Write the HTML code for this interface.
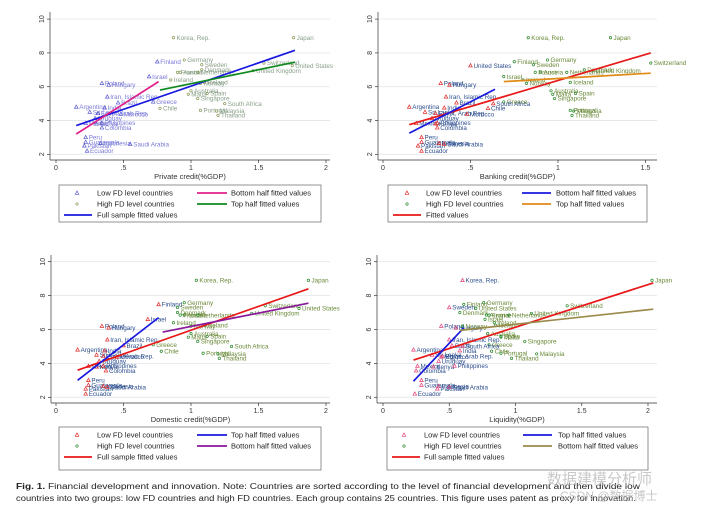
<!DOCTYPE html>
<html><head><meta charset="utf-8"><style>
body{margin:0;background:#fff;}
svg{display:block;font-family:"Liberation Sans",sans-serif;}
</style></head><body>
<svg id="fig" width="711" height="514" viewBox="0 0 711 514" xmlns="http://www.w3.org/2000/svg">
<rect width="711" height="514" fill="#fff"/>
<g id="caption" font-size="7.8" fill="#222">
<text x="16" y="489" textLength="624" lengthAdjust="spacingAndGlyphs"><tspan font-weight="bold">Fig. 1.</tspan> Financial development and innovation. Note: Countries are sorted according to the level of financial development and then divide low</text>
<text x="16" y="501" textLength="620" lengthAdjust="spacingAndGlyphs">countries into two groups: low FD countries and high FD countries. Each group contains 25 countries. This figure uses patent as proxy for innovation.</text>
</g>
<g fill="#bbb" opacity="0.8" font-family="'Liberation Sans','Noto Sans CJK SC',sans-serif">
<text x="547" y="484" font-size="15">数据建模分析师</text>
<text x="560" y="500" font-size="12">CSDN @数据博士</text>
</g>
</svg>
<script>
const countries=["Korea, Rep.","Japan","Finland","Germany","Sweden","Switzerland","United States","United Kingdom","Denmark","Austria","France","Netherlands","Israel","Ireland","Poland","Hungary","Norway","Iceland","Iran, Islamic Rep.","Brazil","Greece","Australia","Malta","Spain","Singapore","South Africa","Chile","Portugal","Malaysia","Thailand","Argentina","India","Sri Lanka","Egypt, Arab Rep.","Morocco","Uruguay","Mexico","Kenya","Philippines","Colombia","Peru","Guatemala","Pakistan","Indonesia","Saudi Arabia","Ecuador"];
const patents=[8.9,8.9,7.48,7.58,7.3,7.4,7.25,6.95,7.0,6.85,6.85,6.85,6.6,6.4,6.2,6.1,6.2,6.25,5.4,5.05,5.1,5.76,5.55,5.6,5.3,5.0,4.72,4.6,4.56,4.3,4.8,4.75,4.5,4.42,4.38,4.13,3.83,3.8,3.85,3.57,3.0,2.72,2.5,2.65,2.6,2.2];
const privateCredit=[.87,1.76,.75,.95,1.08,1.54,1.75,1.46,1.08,.92,.9,1.05,.69,.85,.34,.39,1.07,1.1,.38,.46,.72,1.0,.98,1.12,1.05,1.25,.77,1.07,1.19,1.2,.15,.36,.25,.31,.48,.29,.22,.3,.34,.34,.22,.22,.21,.33,.55,.23];
const bankingCredit=[.83,1.3,.75,.94,.86,1.53,.5,1.2,1.15,.9,.87,1.05,.69,.8,.33,.38,.82,1.07,.36,.42,.69,.96,.97,1.1,.98,.63,.6,1.07,1.09,1.08,.15,.35,.24,.3,.48,.28,.19,.3,.31,.31,.22,.22,.2,.32,.35,.22];
const domesticCredit=[1.04,1.87,.76,.95,.9,1.55,1.8,1.45,.9,.95,.92,1.05,.68,.87,.34,.39,1.0,1.1,.38,.5,.72,1.0,.98,1.12,1.05,1.3,.78,1.09,1.2,1.21,.16,.36,.3,.35,.45,.32,.24,.3,.35,.37,.24,.24,.22,.35,.38,.22];
const liquidity=[.6,2.03,.61,.76,.5,1.39,.7,1.12,.58,.78,.8,.95,.77,.84,.44,.55,.6,.85,.5,.52,.8,.79,.89,.89,1.07,.6,.82,.89,1.16,.97,.23,.58,.37,.45,.44,.42,.26,.38,.54,.25,.29,.29,.41,.42,.5,.24];
const lowP1=[2,12,14,15,18,19,20,30,31,32,33,34,35,36,37,38,39,40,41,42,43,44,45];
const lowP2=[6,14,15,18,19,25,26,30,31,32,33,34,35,36,37,38,39,40,41,42,43,44,45];
const lowP3=[2,12,14,15,18,19,30,31,32,33,34,35,36,37,38,39,40,41,42,43,44,45];
const lowP4=[0,4,14,15,18,19,25,30,31,32,33,34,35,36,37,38,39,40,41,42,43,44,45];
const fitP1=[[0.15,3.7,1.77,8.15],[0.15,3.2,0.76,6.3],[0.77,5.8,1.77,7.45]];
const fitP2=[[0.15,3.75,1.53,8.0],[0.15,3.25,0.64,5.85],[0.69,6.3,1.53,6.8]];
const fitP3=[[0.16,3.6,1.87,8.4],[0.16,3.0,0.76,6.7],[0.79,5.85,1.87,7.55]];
const fitP4=[[0.23,4.2,2.04,8.75],[0.23,2.95,0.61,6.1],[0.58,5.95,2.04,7.2]];
const yTicks=[2,4,6,8,10];
const xTicksA=[0,.5,1,1.5,2];
const xTicksB=[0,.5,1,1.5];
const xTickLabels={0:"0",0.5:".5",1:"1",1.5:"1.5",2:"2"};

const svg=document.getElementById('fig');
const NS="http://www.w3.org/2000/svg";
function mk(tag,attrs,parent){const e=document.createElementNS(NS,tag);for(const k in attrs)e.setAttribute(k,attrs[k]);parent.appendChild(e);return e;}

const panels=[
 {name:"private",xs:privateCredit,low:lowP1,fits:fitP1,xt:xTicksA,label:"Private credit(%GDP)",x0:56,xu:135,y2:154.3,yu:16.9,L:50,R:330,T:12,B:160,
  lowC:"#5a5ad0",lowT:"#7a7ad8",hiC:"#8a9a5a",hiT:"#8aa08a",lineC:["#1818e0","#e0208a","#108a20"],
  legend:{top:185,bot:222,lx:59,rx:321,sym:77,txt:97,lx1:197,lx2:227,ltxt:231},
  items:[["tri","Low FD level countries"],["line","Bottom half fitted values",1],["circ","High FD level countries"],["line","Top half fitted values",2],["line","Full sample fitted values",0]]},
 {name:"banking",xs:bankingCredit,low:lowP2,fits:fitP2,xt:xTicksB,label:"Banking credit(%GDP)",x0:383,xu:175,y2:154.3,yu:16.9,L:378,R:657,T:12,B:160,
  lowC:"#e02828",lowT:"#2d4f8f",hiC:"#2a8a2a",hiT:"#6b8a3a",lineC:["#e81818","#1818e0","#e08a18"],
  legend:{top:185,bot:222,lx:388,rx:647,sym:407,txt:426,lx1:522,lx2:551,ltxt:556},
  items:[["tri","Low FD level countries"],["line","Bottom half fitted values",1],["circ","High FD level countries"],["line","Top half fitted values",2],["line","Fitted values",0]]},
 {name:"domestic",xs:domesticCredit,low:lowP3,fits:fitP3,xt:xTicksA,label:"Domestic credit(%GDP)",x0:56,xu:135,y2:397.3,yu:16.95,L:51,R:330,T:255,B:403,
  lowC:"#e02828",lowT:"#2d4f8f",hiC:"#2a8a2a",hiT:"#6b8a3a",lineC:["#e81818","#1818e0","#8a189a"],
  legend:{top:427,bot:470,lx:59,rx:321,sym:77,txt:97,lx1:197,lx2:227,ltxt:231},
  items:[["tri","Low FD level countries"],["line","Top half fitted values",1],["circ","High FD level countries"],["line","Bottom half fitted values",2],["line","Full sample fitted values",0]]},
 {name:"liquidity",xs:liquidity,low:lowP4,fits:fitP4,xt:xTicksA,label:"Liquidity(%GDP)",x0:383,xu:132.5,y2:397.3,yu:16.95,L:377,R:657,T:255,B:403,
  lowC:"#e0407a",lowT:"#2d4f8f",hiC:"#2a8a2a",hiT:"#6b8a3a",lineC:["#e81818","#1818e0","#9a8a4a"],
  legend:{top:427,bot:470,lx:387,rx:648,sym:404,txt:424,lx1:523,lx2:552,ltxt:558},
  items:[["tri","Low FD level countries"],["line","Top half fitted values",1],["circ","High FD level countries"],["line","Bottom half fitted values",2],["line","Full sample fitted values",0]]}
];

panels.forEach(p=>{
 const X=v=>p.x0+v*p.xu, Y=v=>p.y2-(v-2)*p.yu;
 const g=mk('g',{},svg);
 
 
 yTicks.forEach(t=>{
  const gl=mk('line',{x1:p.L,x2:p.R,y1:Y(t),y2:Y(t),stroke:"#e4e8ec","stroke-width":0.9},g);
  
  
  mk('line',{x1:p.L-3,x2:p.L,y1:Y(t),y2:Y(t),stroke:"#333","stroke-width":0.7},g);
  const tl=mk('text',{x:p.L-6,y:Y(t),"font-size":7,fill:"#333","text-anchor":"middle",transform:`rotate(-90 ${p.L-6} ${Y(t)})`},g);
  tl.textContent=String(t);
  
  
 });
 mk('line',{x1:p.L,x2:p.L,y1:p.T,y2:p.B,stroke:"#333","stroke-width":0.7},g);
 mk('line',{x1:p.L,x2:p.R,y1:p.B,y2:p.B,stroke:"#333","stroke-width":0.7},g);
 p.xt.forEach(t=>{
  mk('line',{x1:X(t),x2:X(t),y1:p.B,y2:p.B+3,stroke:"#333","stroke-width":0.7},g);
  const tl=mk('text',{x:X(t),y:p.B+10,"font-size":7,fill:"#333","text-anchor":"middle"},g);
  tl.textContent=xTickLabels[t];
  
  
 });
 const xl=mk('text',{x:(p.L+p.R)/2,y:p.B+19,"font-size":7.5,fill:"#333","text-anchor":"middle"},g);
 xl.textContent=p.label;
 
 
 countries.forEach((c,i)=>{
  const isLow=p.low.includes(i);
  const px=X(p.xs[i]), py=Y(patents[i]);
  let m;
  if(isLow){m=mk('path',{d:`M${px} ${py-2}L${px+1.8} ${py+1.3}L${px-1.8} ${py+1.3}Z`,fill:"none",stroke:p.lowC,"stroke-width":0.7},g);}
  else{m=mk('circle',{cx:px,cy:py,r:1.2,fill:"none",stroke:p.hiC,"stroke-width":0.7},g);}
  
  
  const t=mk('text',{x:px+3,y:py+2.2,"font-size":6.3,fill:isLow?p.lowT:p.hiT},g);
  t.textContent=c;
  
  
 });
 p.fits.forEach((f,k)=>{
  const l=mk('line',{x1:X(f[0]),y1:Y(f[1]),x2:X(f[2]),y2:Y(f[3]),stroke:p.lineC[k],"stroke-width":1.7},g);
  
  
 });
 const lg=p.legend;
 const lb=mk('rect',{x:lg.lx,y:lg.top,width:lg.rx-lg.lx,height:lg.bot-lg.top,fill:"#fff",stroke:"#666","stroke-width":0.7},g);
 
 
 const rows=[lg.top+8,lg.top+19,lg.top+30];
 p.items.forEach((it,i)=>{
  const ry=rows[Math.floor(i/2)], right=(i%2===1);
  let tx;
  if(it[0]==="tri"){mk('path',{d:`M${lg.sym} ${ry-2}L${lg.sym+1.8} ${ry+1.3}L${lg.sym-1.8} ${ry+1.3}Z`,fill:"none",stroke:p.lowC,"stroke-width":0.7},g);tx=lg.txt;}
  else if(it[0]==="circ"){mk('circle',{cx:lg.sym,cy:ry,r:1.2,fill:"none",stroke:p.hiC,"stroke-width":0.7},g);tx=lg.txt;}
  else{
   const x1=right?lg.lx1:lg.lx+5,x2=right?lg.lx2:lg.lx+33;
   mk('line',{x1:x1,x2:x2,y1:ry,y2:ry,stroke:p.lineC[it[2]],"stroke-width":1.7},g);
   tx=right?lg.ltxt:lg.txt;
  }
  const t=mk('text',{x:tx,y:ry+2.7,"font-size":7.5,fill:"#222"},g);
  t.textContent=it[1];
  
  
 });
});
</script>
</body></html>
